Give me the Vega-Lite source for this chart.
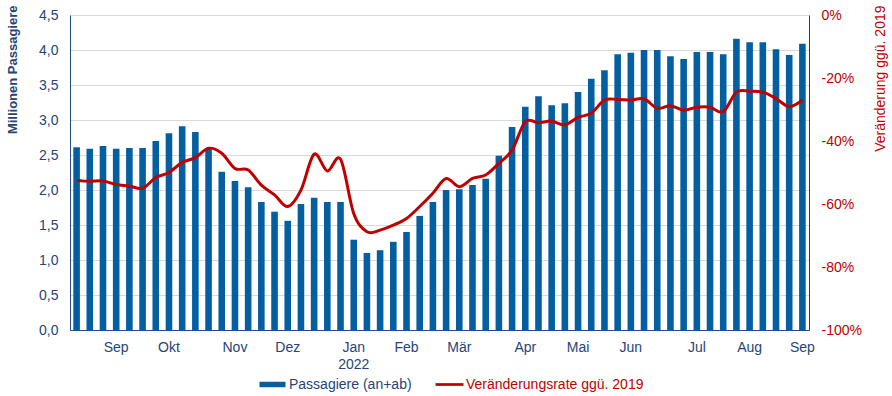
{
  "$schema": "https://vega.github.io/schema/vega-lite/v6.json",
  "width": 739,
  "height": 315,
  "autosize": {"type": "none"},
  "padding": {"left": 70, "top": 15, "right": 83, "bottom": 66},
  "background": "white",
  "config": {
    "view": {"stroke": null},
    "font": "Liberation Sans"
  },
  "data": {
    "values": [
      {"woche": "2021-08-09", "passagiere": 2.61, "rate": -0.525},
      {"woche": "2021-08-16", "passagiere": 2.59, "rate": -0.528},
      {"woche": "2021-08-23", "passagiere": 2.63, "rate": -0.527},
      {"woche": "2021-08-30", "passagiere": 2.59, "rate": -0.538},
      {"woche": "2021-09-06", "passagiere": 2.60, "rate": -0.543},
      {"woche": "2021-09-13", "passagiere": 2.60, "rate": -0.550},
      {"woche": "2021-09-20", "passagiere": 2.70, "rate": -0.516},
      {"woche": "2021-09-27", "passagiere": 2.81, "rate": -0.500},
      {"woche": "2021-10-04", "passagiere": 2.91, "rate": -0.468},
      {"woche": "2021-10-11", "passagiere": 2.83, "rate": -0.453},
      {"woche": "2021-10-18", "passagiere": 2.60, "rate": -0.423},
      {"woche": "2021-10-25", "passagiere": 2.26, "rate": -0.439},
      {"woche": "2021-11-01", "passagiere": 2.13, "rate": -0.487},
      {"woche": "2021-11-08", "passagiere": 2.04, "rate": -0.492},
      {"woche": "2021-11-15", "passagiere": 1.83, "rate": -0.540},
      {"woche": "2021-11-22", "passagiere": 1.69, "rate": -0.571},
      {"woche": "2021-11-29", "passagiere": 1.56, "rate": -0.608},
      {"woche": "2021-12-06", "passagiere": 1.80, "rate": -0.556},
      {"woche": "2021-12-13", "passagiere": 1.89, "rate": -0.442},
      {"woche": "2021-12-20", "passagiere": 1.83, "rate": -0.495},
      {"woche": "2021-12-27", "passagiere": 1.83, "rate": -0.458},
      {"woche": "2022-01-03", "passagiere": 1.29, "rate": -0.630},
      {"woche": "2022-01-10", "passagiere": 1.10, "rate": -0.688},
      {"woche": "2022-01-17", "passagiere": 1.14, "rate": -0.683},
      {"woche": "2022-01-24", "passagiere": 1.26, "rate": -0.667},
      {"woche": "2022-01-31", "passagiere": 1.40, "rate": -0.646},
      {"woche": "2022-02-07", "passagiere": 1.63, "rate": -0.608},
      {"woche": "2022-02-14", "passagiere": 1.83, "rate": -0.566},
      {"woche": "2022-02-21", "passagiere": 2.00, "rate": -0.519},
      {"woche": "2022-02-28", "passagiere": 2.01, "rate": -0.545},
      {"woche": "2022-03-07", "passagiere": 2.07, "rate": -0.519},
      {"woche": "2022-03-14", "passagiere": 2.16, "rate": -0.508},
      {"woche": "2022-03-21", "passagiere": 2.49, "rate": -0.471},
      {"woche": "2022-03-28", "passagiere": 2.90, "rate": -0.429},
      {"woche": "2022-04-04", "passagiere": 3.19, "rate": -0.339},
      {"woche": "2022-04-11", "passagiere": 3.34, "rate": -0.342},
      {"woche": "2022-04-18", "passagiere": 3.21, "rate": -0.337},
      {"woche": "2022-04-25", "passagiere": 3.24, "rate": -0.349},
      {"woche": "2022-05-02", "passagiere": 3.40, "rate": -0.325},
      {"woche": "2022-05-09", "passagiere": 3.59, "rate": -0.312},
      {"woche": "2022-05-16", "passagiere": 3.71, "rate": -0.270},
      {"woche": "2022-05-23", "passagiere": 3.94, "rate": -0.268},
      {"woche": "2022-05-30", "passagiere": 3.96, "rate": -0.270},
      {"woche": "2022-06-06", "passagiere": 4.00, "rate": -0.266},
      {"woche": "2022-06-13", "passagiere": 4.00, "rate": -0.296},
      {"woche": "2022-06-20", "passagiere": 3.91, "rate": -0.288},
      {"woche": "2022-06-27", "passagiere": 3.87, "rate": -0.302},
      {"woche": "2022-07-04", "passagiere": 3.97, "rate": -0.293},
      {"woche": "2022-07-11", "passagiere": 3.97, "rate": -0.293},
      {"woche": "2022-07-18", "passagiere": 3.94, "rate": -0.307},
      {"woche": "2022-07-25", "passagiere": 4.16, "rate": -0.245},
      {"woche": "2022-08-01", "passagiere": 4.11, "rate": -0.242},
      {"woche": "2022-08-08", "passagiere": 4.11, "rate": -0.245},
      {"woche": "2022-08-15", "passagiere": 4.01, "rate": -0.265},
      {"woche": "2022-08-22", "passagiere": 3.93, "rate": -0.291},
      {"woche": "2022-08-29", "passagiere": 4.09, "rate": -0.270}
    ]
  },
  "encoding": {
    "x": {
      "field": "woche",
      "type": "ordinal",
      "scale": {"paddingInner": 0.5, "paddingOuter": 0.25},
      "axis": {
        "title": null,
        "values": ["2021-08-30", "2021-09-27", "2021-11-01", "2021-11-29", "2022-01-03", "2022-01-31", "2022-02-28", "2022-04-04", "2022-05-02", "2022-05-30", "2022-07-04", "2022-08-01", "2022-08-29"],
        "labelExpr": "({'2021-08-30':'Sep','2021-09-27':'Okt','2021-11-01':'Nov','2021-11-29':'Dez','2022-01-03':['Jan','2022'],'2022-01-31':'Feb','2022-02-28':'Mär','2022-04-04':'Apr','2022-05-02':'Mai','2022-05-30':'Jun','2022-07-04':'Jul','2022-08-01':'Aug','2022-08-29':'Sep'})[datum.value]",
        "labelAngle": 0,
        "ticks": false,
        "labelPadding": 10,
        "labelFontSize": 14,
        "labelLineHeight": 17,
        "labelColor": "#264478",
        "labelOverlap": false,
        "domainColor": "#1F4E8C",
        "domainWidth": 1,
        "grid": false
      }
    }
  },
  "layer": [
    {
      "mark": {"type": "bar"},
      "encoding": {
        "y": {
          "field": "passagiere",
          "type": "quantitative",
          "scale": {"domain": [0, 4.5], "nice": false, "zero": true},
          "axis": {
            "values": [0, 0.5, 1, 1.5, 2, 2.5, 3, 3.5, 4, 4.5],
            "labelExpr": "replace(format(datum.value, '.1f'), '.', ',')",
            "labelFontSize": 14,
            "labelColor": "#264478",
            "labelPadding": 12,
            "ticks": false,
            "grid": true,
            "gridColor": "#D9D9D9",
            "gridWidth": 1,
            "domainColor": "#1F4E8C",
            "title": "Millionen Passagiere",
            "titleFontSize": 13,
            "titleFontWeight": "bold",
            "titleColor": "#264478",
            "titleAngle": 270,
            "titleX": -58,
            "titleY": -10,
            "titleAlign": "right",
            "titleBaseline": "middle"
          }
        },
        "color": {
          "datum": "Passagiere (an+ab)",
          "type": "nominal",
          "scale": {
            "domain": ["Passagiere (an+ab)", "Veränderungsrate ggü. 2019"],
            "range": ["#045FA1", "#C00000"]
          },
          "legend": {
            "title": null,
            "orient": "none",
            "direction": "horizontal",
            "legendX": 195.5,
            "legendY": 362.5,
            "padding": 0,
            "symbolSize": 169,
            "labelFontSize": 14,
            "labelOffset": 9.5,
            "columnPadding": 23,
            "labelLimit": 400,
            "encode": {
              "symbols": {
                "update": {
                  "shape": {"signal": "datum.value === 'Passagiere (an+ab)' ? 'M-2,-0.42H2V0.42H-2Z' : 'M-2.15,-0.21H2.15V0.21H-2.15Z'"},
                  "fill": {"signal": "datum.value === 'Passagiere (an+ab)' ? '#045FA1' : '#C00000'"},
                  "stroke": {"value": "transparent"},
                  "strokeWidth": {"value": 0},
                  "opacity": {"value": 1}
                }
              },
              "labels": {
                "update": {
                  "fill": {"signal": "datum.value === 'Passagiere (an+ab)' ? '#264478' : '#C00000'"}
                }
              }
            }
          }
        }
      }
    },
    {
      "mark": {"type": "line", "strokeWidth": 3, "interpolate": "cardinal"},
      "encoding": {
        "y": {
          "field": "rate",
          "type": "quantitative",
          "scale": {"domain": [-1, 0], "nice": false, "zero": false},
          "axis": {
            "orient": "right",
            "values": [-1, -0.8, -0.6, -0.4, -0.2, 0],
            "labelExpr": "round(datum.value * 100) + '%'",
            "labelFontSize": 14,
            "labelColor": "#C00000",
            "labelPadding": 12,
            "ticks": false,
            "grid": false,
            "domainColor": "#C00000",
            "title": "Veränderung ggü. 2019",
            "titleFontSize": 14,
            "titleFontWeight": "normal",
            "titleColor": "#C00000",
            "titleAngle": 270,
            "titleX": 71,
            "titleY": -10,
            "titleAlign": "right",
            "titleBaseline": "middle"
          }
        },
        "color": {"datum": "Veränderungsrate ggü. 2019", "type": "nominal"}
      }
    }
  ],
  "resolve": {"scale": {"y": "independent"}}
}
